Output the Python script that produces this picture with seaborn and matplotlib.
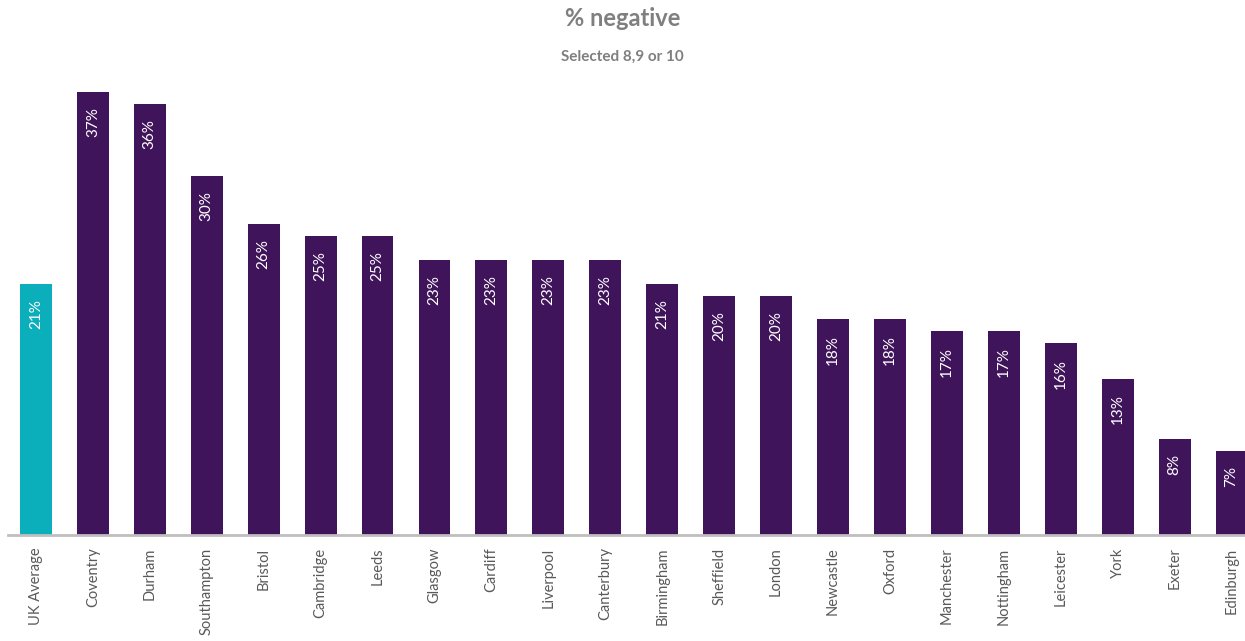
"""% negative by city - bar chart."""

import matplotlib.pyplot as plt
import seaborn as sns

cities = ["UK Average", "Coventry", "Durham", "Southampton", "Bristol", "Cambridge",
          "Leeds", "Glasgow", "Cardiff", "Liverpool", "Canterbury", "Birmingham",
          "Sheffield", "London", "Newcastle", "Oxford", "Manchester", "Nottingham",
          "Leicester", "York", "Exeter", "Edinburgh"]
pct_negative = [21, 37, 36, 30, 26, 25, 25, 23, 23, 23, 23, 21,
                20, 20, 18, 18, 17, 17, 16, 13, 8, 7]

PURPLE = "#40145A"
TEAL = "#0AAFBB"
GREY_TXT = "#7F7F7F"
TICK_TXT = "#595959"

sns.set_theme(style="white")
plt.rcParams["font.family"] = ["Lato", "DejaVu Sans"]

colors = [TEAL] + [PURPLE] * (len(cities) - 1)

fig = plt.figure(figsize=(12.45, 6.41), dpi=100)
ax = fig.add_axes([7.5 / 1245, 1 - 535 / 641, 1 - 7.5 / 1245, (535 - 80) / 641])

sns.barplot(x=cities, y=pct_negative, hue=cities, palette=colors, legend=False,
            width=0.56, saturation=1, linewidth=0, ax=ax)

# value labels inside the top of each bar
for patch, val in zip(ax.patches, pct_negative):
    ax.annotate(f"{val}%", (patch.get_x() + patch.get_width() / 2, patch.get_height()),
                xytext=(0, -11), textcoords="offset points", rotation=90,
                ha="center", va="top", color="white", fontsize=11)

ax.set_xlim(-0.5, 21.5 - 15 / 57)
ax.set_ylim(0, 38.0)
ax.set_yticks([])
ax.set_ylabel("")
ax.tick_params(axis="x", rotation=90, labelsize=10.5, colors=TICK_TXT, length=0, pad=9)
for side in ["top", "left", "right"]:
    ax.spines[side].set_visible(False)
ax.spines["bottom"].set_color("#BFBFBF")
ax.spines["bottom"].set_linewidth(2)

fig.text(0.5, 1 - 18 / 641, "% negative", ha="center", va="center",
         fontsize=17, fontweight="bold", color=GREY_TXT)
fig.text(0.5, 1 - 57 / 641, "Selected 8,9 or 10", ha="center", va="center",
         fontsize=11, fontweight="bold", color=GREY_TXT)

fig.savefig("out.png", dpi=100)
